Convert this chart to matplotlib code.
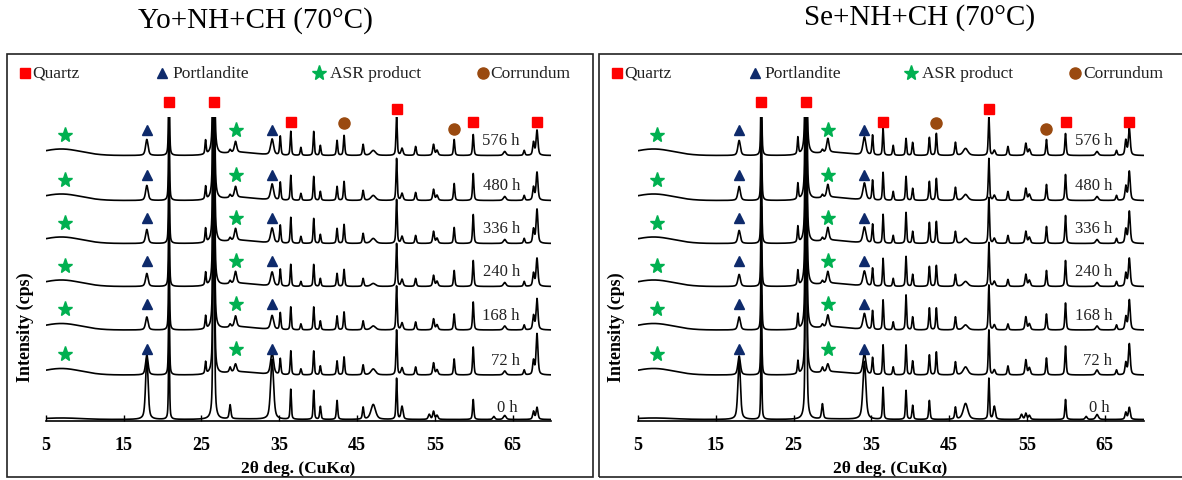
import numpy as np
import matplotlib
matplotlib.use("Agg")
import matplotlib.pyplot as plt
from matplotlib.lines import Line2D
from matplotlib.patches import Rectangle

# ---------------- data ----------------
TITLES = ["Yo+NH+CH (70°C)", "Se+NH+CH (70°C)"]
TRACE_LABELS = ["0 h", "72 h", "168 h", "240 h", "336 h", "480 h", "576 h"]
TRACE_OFFSETS = [0, 44.5, 89.5, 133, 176, 219, 264]

# peak positions (2theta, deg) and peak widths (FWHM, deg)
PEAK_POS = [18.0, 20.85, 25.55, 26.6, 28.7, 29.4, 34.1, 35.15, 36.5, 37.8,
            39.45, 40.3, 42.45, 43.35, 45.8, 47.1, 50.1, 50.8, 52.55, 54.3,
            54.85, 55.3, 57.5, 59.95, 62.6, 64.0, 66.5, 67.7, 68.15]
PEAK_FWHM = [0.38, 0.16, 0.18, 0.2, 0.25, 0.35, 0.45, 0.2, 0.18, 0.2,
             0.18, 0.2, 0.2, 0.2, 0.22, 0.7, 0.18, 0.3, 0.22, 0.3,
             0.25, 0.3, 0.2, 0.2, 0.3, 0.4, 0.22, 0.25, 0.28]

# peak heights per trace (0 h ... 576 h)
LEFT_HEIGHTS = [
    [62, 80, 0, 300, 14, 0, 60, 0, 30, 0, 29, 13, 19, 0, 12, 15, 41, 13, 0, 5, 8, 4, 0, 20, 3, 4, 0, 8, 12],
    [20, 80, 12, 300, 5, 8, 22, 16, 24, 6, 24, 9, 14, 18, 10, 6, 45, 7, 8, 0, 12, 5, 16, 28, 0, 4, 5, 14, 41],
    [13, 80, 13, 300, 3, 11, 14, 17, 23, 6, 23, 9, 14, 18, 9, 4, 44, 7, 8, 0, 11, 5, 16, 28, 0, 4, 5, 14, 31],
    [13, 80, 13, 300, 3, 12, 14, 17, 22, 5, 22, 8, 13, 17, 8, 3, 43, 7, 8, 0, 11, 5, 16, 26, 0, 4, 5, 13, 28],
    [14, 80, 14, 300, 3, 12, 15, 18, 26, 7, 25, 9, 15, 19, 10, 5, 44, 7, 8, 0, 12, 5, 16, 29, 0, 4, 5, 14, 34],
    [15, 80, 13, 300, 3, 11, 16, 18, 25, 7, 24, 9, 14, 19, 10, 5, 42, 7, 8, 0, 11, 5, 17, 27, 0, 4, 5, 13, 28],
    [16, 80, 14, 300, 3, 11, 16, 19, 24, 8, 24, 10, 15, 20, 11, 5, 40, 7, 9, 0, 11, 5, 16, 21, 0, 4, 5, 13, 25],
]
RIGHT_HEIGHTS = [
    [60, 80, 0, 300, 15, 0, 58, 0, 32, 0, 29, 14, 19, 0, 12, 16, 41, 13, 0, 5, 6, 4, 0, 20, 3, 5, 0, 7, 12],
    [19, 80, 13, 300, 5, 8, 21, 17, 30, 8, 30, 14, 20, 23, 13, 8, 45, 5, 9, 0, 15, 7, 17, 29, 0, 5, 5, 12, 31],
    [13, 80, 15, 300, 3, 12, 16, 19, 30, 8, 35, 13, 22, 22, 13, 5, 45, 5, 6, 0, 13, 6, 16, 27, 0, 4, 5, 13, 30],
    [12, 80, 15, 300, 3, 12, 15, 18, 28, 8, 30, 12, 20, 21, 12, 5, 44, 5, 7, 0, 12, 6, 16, 26, 0, 4, 5, 13, 28],
    [13, 80, 16, 300, 3, 13, 16, 19, 29, 8, 31, 12, 21, 22, 12, 5, 46, 5, 8, 0, 12, 6, 17, 28, 0, 4, 5, 14, 32],
    [14, 80, 16, 300, 3, 13, 17, 20, 28, 9, 24, 12, 19, 22, 13, 6, 42, 5, 9, 0, 12, 6, 16, 26, 0, 4, 5, 14, 29],
    [15, 80, 17, 300, 3, 14, 18, 20, 27, 10, 17, 13, 18, 22, 13, 7, 40, 5, 9, 0, 12, 6, 16, 22, 0, 4, 5, 15, 27],
]
# broad amorphous humps: (ASR hump near 7 deg, C-S-H bump near 30 deg)
LEFT_HUMP = [1.5, 6.5, 6.5, 6.5, 6.5, 6.5, 6.5]
LEFT_BUMP = [0.5, 3, 3, 3, 3, 3, 3]
RIGHT_HUMP = [1.5, 6.5, 6.5, 6.5, 6.5, 6.5, 6.5]
RIGHT_BUMP = [0.5, 3, 3, 3, 3, 3, 3]

X_TICKS = [5, 15, 25, 35, 45, 55, 65]
LEGEND_NAMES = ["Quartz", "Portlandite", "ASR product", "Corrundum"]

# ---------------- styling ----------------
plt.rcParams['font.family'] = ['Liberation Serif', 'DejaVu Serif']
W, H = 1182, 481
fig = plt.figure(figsize=(W / 100, H / 100), dpi=100)

def fx(px):
    return px / W

def fy(py):
    return 1 - py / H

C_Q = '#FF0000'
C_P = '#0E2A6B'
C_A = '#00B050'
C_C = '#9A4A10'

x = np.linspace(5, 70, 6000)

def profile(heights, hump, bump):
    y = np.zeros_like(x)
    for p, w, h in zip(PEAK_POS, PEAK_FWHM, heights):
        if h <= 0:
            continue
        g = w / 2.0
        lor = 1.0 / (1 + ((x - p) / g) ** 2)
        gau = np.exp(-np.log(2) * ((x - p) / g) ** 2)
        y += h * (0.55 * lor + 0.45 * gau)
    y += hump * np.exp(-np.log(2) * ((x - 7.0) / 3.0) ** 2)
    y += bump * np.exp(-np.log(2) * ((x - 30.0) / 2.5) ** 2)
    return y

panels = [
    dict(ax_left=45.7, title=TITLES[0], tcx=255.5, tcy=21, heights=LEFT_HEIGHTS,
         hump=LEFT_HUMP, bump=LEFT_BUMP, box=(7, 55, 593, 478), dx=0),
    dict(ax_left=638.0, title=TITLES[1], tcx=920, tcy=18, heights=RIGHT_HEIGHTS,
         hump=RIGHT_HUMP, bump=RIGHT_BUMP, box=(599, 55, 1190, 478), dx=592.3),
]

AX_W = 505.7
AX_BOTTOM = 422
AX_H = 304

for pn in panels:
    # frame box
    x0, y0, x1, y1 = pn['box']
    fig.patches.append(Rectangle((fx(x0), fy(y1)), fx(x1) - fx(x0), fy(y0) - fy(y1),
                                 transform=fig.transFigure, fill=False,
                                 edgecolor='#222222', linewidth=1.2, zorder=0))
    fig.text(fx(pn['tcx']), fy(pn['tcy']), pn['title'], ha='center', va='center', fontsize=21)

    ax = fig.add_axes([fx(pn['ax_left']), fy(AX_BOTTOM), AX_W / W, AX_H / H])
    ax.set_xlim(5, 70)
    ax.set_ylim(-1.5, AX_H - 1.5)
    for s in ['left', 'right', 'top']:
        ax.spines[s].set_visible(False)
    ax.spines['bottom'].set_linewidth(1.2)
    ax.set_yticks([])
    ax.set_xticks(X_TICKS)
    ax.tick_params(axis='x', direction='in', length=4, width=1, pad=11, labelsize=13)
    for lab in ax.get_xticklabels():
        lab.set_fontweight('bold')
    ax.patch.set_alpha(0)

    for i, (lbl, off) in enumerate(zip(TRACE_LABELS, TRACE_OFFSETS)):
        y = off + profile(pn['heights'][i], pn['hump'][i], pn['bump'][i])
        ax.plot(x, y, color='black', lw=1.2, zorder=2)
        lx = 65.6 if i == 0 else 65.95
        ly = off + (12 if i == 0 else 15)
        ax.text(lx, ly, lbl, ha='right', va='center', fontsize=12, color='#222222', zorder=3)
        if i > 0:
            ax.plot([7.5], [off + 21], marker='*', ms=11, color=C_A, ls='none', zorder=4, clip_on=False)
            ax.plot([29.4], [off + 26], marker='*', ms=11, color=C_A, ls='none', zorder=4, clip_on=False)
            ax.plot([18.0, 34.1], [off + 26, off + 26], marker='^', ms=7, color=C_P, ls='none', zorder=4, clip_on=False)

    # phase markers above top trace
    ax.plot([20.85, 26.6], [317.5, 317.5], marker='s', ms=7, color=C_Q, ls='none', clip_on=False, zorder=4)
    ax.plot([36.5, 59.95, 68.15], [297.5, 298, 298], marker='s', ms=7, color=C_Q, ls='none', clip_on=False, zorder=4)
    ax.plot([50.1], [310.5], marker='s', ms=7, color=C_Q, ls='none', clip_on=False, zorder=4)
    ax.plot([43.35, 57.5], [297, 290.5], marker='o', ms=8, color=C_C, ls='none', clip_on=False, zorder=4)

    # legend row
    dx = pn['dx']
    leg = [(25, 's', 7, C_Q, LEGEND_NAMES[0], 32),
           (162.5, '^', 7, C_P, LEGEND_NAMES[1], 172),
           (319, '*', 11, C_A, LEGEND_NAMES[2], 330),
           (482.5, 'o', 8, C_C, LEGEND_NAMES[3], 490.5)]
    for mx, mk, ms, col, name, tx in leg:
        fig.lines.append(Line2D([fx(mx + dx)], [fy(73.5)], marker=mk, ms=ms, color=col,
                                ls='none', transform=fig.transFigure))
        fig.text(fx(tx + dx), fy(73.5), name, ha='left', va='center', fontsize=12.5, color='#222222')

    # axis labels
    fig.text(fx(298 + dx), fy(469), '2θ deg. (CuKα)', ha='center', va='center',
             fontsize=12.5, fontweight='bold')
    fig.text(fx(25 + dx * 0.9976), fy(327), 'Intensity (cps)', ha='center', va='center',
             rotation=90, fontsize=13, fontweight='bold')

fig.savefig('out.png', dpi=100)
